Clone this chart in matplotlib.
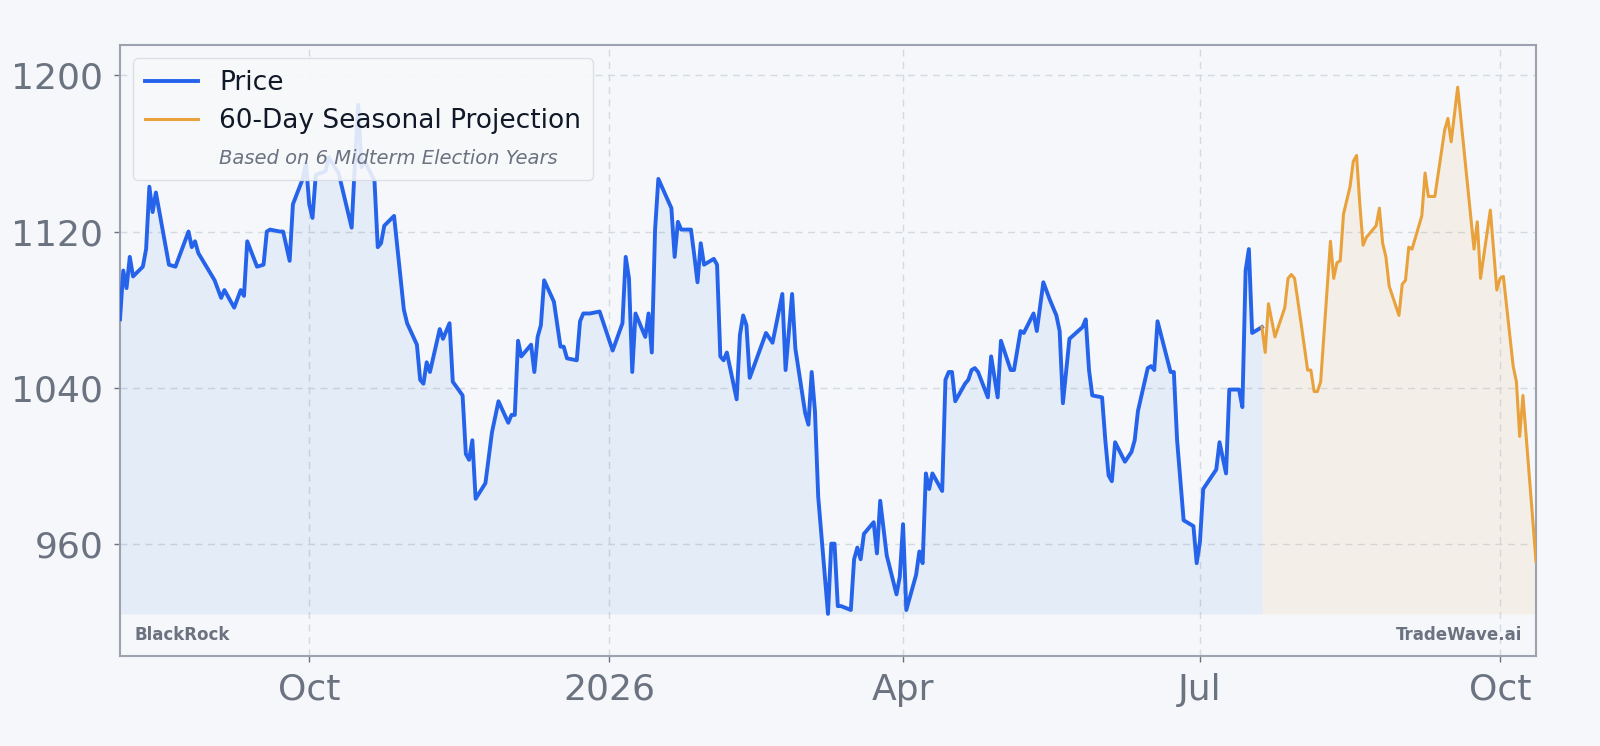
import pandas as pd
import matplotlib
matplotlib.use("Agg")
import matplotlib.pyplot as plt
import matplotlib.dates as mdates
from matplotlib.lines import Line2D

START = pd.Timestamp("2025-08-04")

# calendar days since START and closing values
price_day = [0, 1, 2, 3, 4, 7, 8, 9, 10, 11, 15, 17, 21, 22, 23, 24, 29, 31, 32, 35,
             37, 38, 39, 42, 44, 45, 46, 49, 50, 52, 53, 56, 57, 58, 59, 60, 63, 64, 67, 71,
             72, 73, 74, 75, 78, 79, 80, 81, 84, 85, 87, 88, 91, 92, 93, 94, 95, 98, 99, 101,
             102, 105, 106, 107, 108, 109, 112, 114, 116, 119, 120, 121, 122, 123, 126, 127, 128, 129, 130, 133,
             135, 136, 137, 140, 141, 142, 144, 147, 148, 151, 154, 155, 156, 157, 158, 161, 162, 163, 164, 165,
             169, 170, 171, 172, 175, 176, 177, 178, 179, 182, 183, 184, 185, 186, 189, 190, 191, 192, 193, 198,
             200, 203, 204, 206, 207, 210, 211, 212, 213, 214, 217, 218, 219, 220, 221, 224, 225, 226, 227, 228,
             231, 232, 233, 235, 238, 239, 240, 241, 244, 245, 246, 247, 248, 249, 252, 253, 254, 255, 256, 259,
             260, 261, 262, 263, 266, 267, 269, 270, 273, 274, 276, 277, 280, 281, 283, 285, 287, 288, 289, 291,
             293, 295, 296, 297, 298, 301, 302, 303, 304, 305, 308, 310, 311, 312, 315, 316, 317, 318, 322, 323,
             324, 326, 327, 329, 330, 331, 332, 336, 337, 339, 340, 343, 344, 345, 346, 347, 350]
price_val = [1075, 1100, 1091, 1107, 1097, 1102, 1111, 1143, 1130, 1140, 1103, 1102, 1120, 1112, 1115, 1109, 1095, 1086, 1090, 1081,
             1090, 1087, 1115, 1102, 1103, 1120, 1121, 1120, 1120, 1105, 1134, 1147, 1155, 1134, 1127, 1149, 1151, 1158, 1150, 1122,
             1155, 1185, 1153, 1156, 1146, 1112, 1114, 1123, 1128, 1112, 1080, 1073, 1062, 1044, 1042, 1053, 1048, 1070, 1065, 1073,
             1043, 1036, 1006, 1003, 1013, 983, 991, 1017, 1033, 1022, 1026, 1026, 1064, 1056, 1062, 1048, 1066, 1072, 1095, 1084,
             1061, 1061, 1055, 1054, 1074, 1078, 1078, 1079, 1074, 1059, 1073, 1107, 1096, 1048, 1078, 1066, 1078, 1058, 1121, 1147,
             1132, 1107, 1125, 1121, 1121, 1108, 1094, 1114, 1103, 1106, 1103, 1056, 1054, 1058, 1034, 1067, 1077, 1072, 1045, 1068,
             1063, 1088, 1049, 1088, 1060, 1027, 1021, 1048, 1028, 984, 924, 960, 960, 928, 928, 926, 952, 958, 952, 965,
             971, 955, 982, 954, 934, 943, 970, 926, 944, 956, 950, 996, 988, 996, 987, 1044, 1048, 1048, 1033, 1042,
             1044, 1049, 1050, 1048, 1035, 1056, 1035, 1064, 1049, 1049, 1069, 1068, 1078, 1069, 1094, 1085, 1077, 1069, 1032, 1065,
             1068, 1071, 1075, 1049, 1036, 1035, 1013, 995, 992, 1012, 1002, 1007, 1013, 1028, 1050, 1051, 1049, 1074, 1048, 1048,
             1013, 972, 971, 969, 950, 961, 988, 998, 1012, 996, 1039, 1039, 1030, 1100, 1111, 1068, 1071]

proj_day = [350, 351, 352, 354, 357, 358, 359, 360, 362, 364, 365, 366, 367, 368, 371, 372, 373, 374, 375, 377,
            378, 379, 380, 381, 382, 385, 386, 387, 388, 389, 392, 393, 394, 395, 396, 399, 400, 401, 402, 403,
            406, 407, 408, 410, 415, 416, 417, 420, 422, 423, 424, 427, 428, 429, 430, 434]
proj_val = [1071, 1058, 1083, 1066, 1081, 1096, 1098, 1096, 1073, 1049, 1049, 1038, 1038, 1043, 1115, 1096, 1104, 1105, 1129, 1143,
            1156, 1159, 1134, 1113, 1117, 1123, 1132, 1114, 1107, 1092, 1077, 1093, 1095, 1112, 1111, 1128, 1150, 1138, 1138, 1138,
            1172, 1178, 1166, 1194, 1111, 1125, 1096, 1131, 1090, 1096, 1097, 1051, 1043, 1015, 1036, 951]

BG = "#F5F7FA"
BLUE = "#2563EB"
ORANGE = "#E9A23B"
GRAY = "#6B7280"

price_dates = START + pd.to_timedelta(price_day, unit="D")
proj_dates = START + pd.to_timedelta(proj_day, unit="D")

fig = plt.figure(figsize=(16, 7.46), dpi=100, facecolor=BG)
ax = fig.add_axes([0.075, 0.1206, 0.885, 0.819], facecolor=BG)

lo = min(min(price_val), min(proj_val))
hi = max(max(price_val), max(proj_val))
pad = 0.08 * (hi - lo)

ax.fill_between(price_dates, price_val, lo, color="#2F7FE0", alpha=0.09, lw=0)
ax.fill_between(proj_dates, proj_val, lo, color=ORANGE, alpha=0.09, lw=0)
ax.plot(price_dates, price_val, color=BLUE, lw=2.8, label="Price", zorder=3)
ax.plot(proj_dates, proj_val, color=ORANGE, lw=2.2, label="60-Day Seasonal Projection", zorder=3)

ax.set_xlim(price_dates[0], proj_dates[-1])
ax.set_ylim(lo - pad, hi + pad)
ax.set_yticks([960, 1040, 1120, 1200])

loc = mdates.MonthLocator(bymonth=[1, 4, 7, 10])
ax.xaxis.set_major_locator(loc)
ax.xaxis.set_major_formatter(mdates.ConciseDateFormatter(loc, show_offset=False))

ax.grid(True, linestyle=(0, (5, 4)), color="#D5D9E0", lw=1.0)
ax.set_axisbelow(True)
ax.tick_params(labelsize=26, colors=GRAY, length=4, width=1, pad=8)
for s in ax.spines.values():
    s.set_color("#9CA3AF")
    s.set_linewidth(1.5)

handles = [Line2D([], [], color=BLUE, lw=2.8),
           Line2D([], [], color=ORANGE, lw=2.2),
           Line2D([], [], color="none")]
labels = ["Price", "60-Day Seasonal Projection", "Based on 6 Midterm Election Years"]
leg = ax.legend(handles, labels, loc="upper left", fontsize=19, handlelength=2.0,
                frameon=True, fancybox=True, framealpha=0.88, facecolor="#F8F9FB",
                edgecolor="#D9DDE3", labelcolor="#111827", borderpad=0.45,
                labelspacing=0.45, handletextpad=0.8)
sub = leg.get_texts()[2]
sub.set_fontsize(14)
sub.set_style("italic")
sub.set_color(GRAY)

ax.text(0.01, 0.035, "BlackRock", transform=ax.transAxes, fontsize=12,
        fontweight="bold", color=GRAY, ha="left", va="center")
ax.text(0.99, 0.035, "TradeWave.ai", transform=ax.transAxes, fontsize=12,
        fontweight="bold", color=GRAY, ha="right", va="center")

fig.savefig("out.png", dpi=100, facecolor=BG)
